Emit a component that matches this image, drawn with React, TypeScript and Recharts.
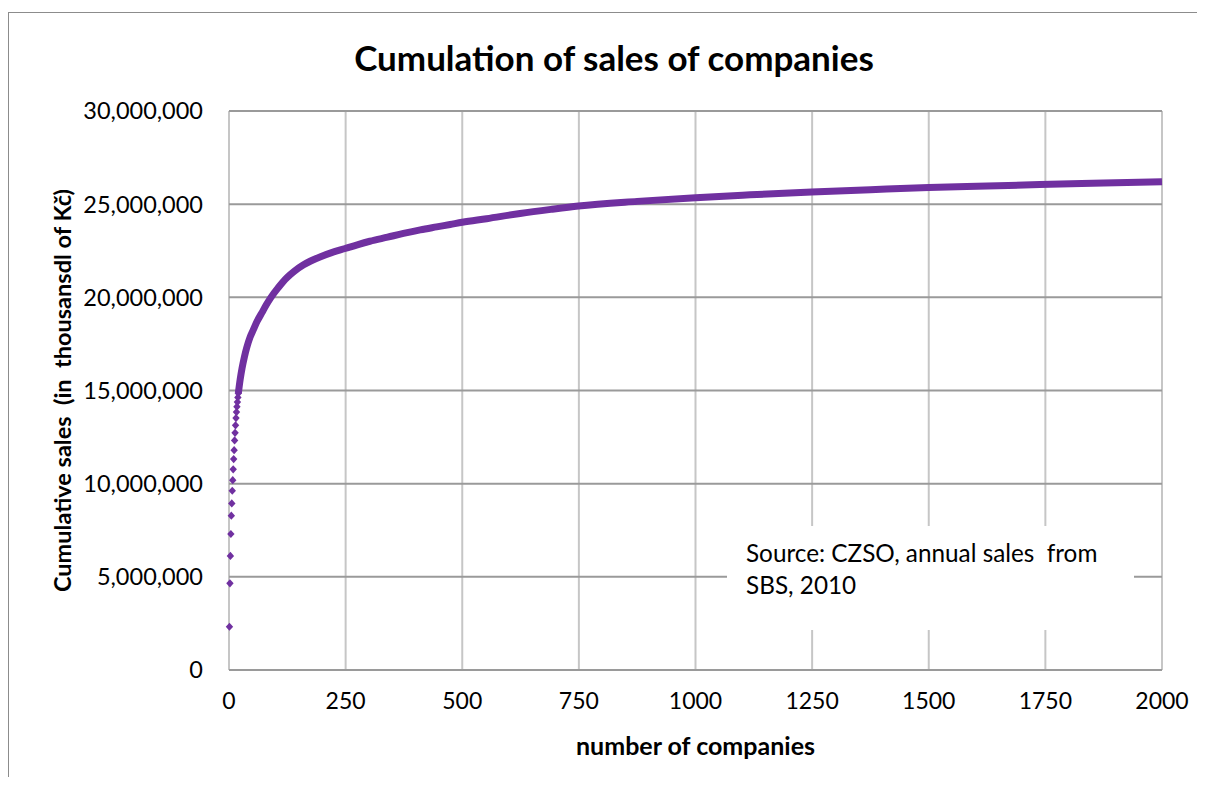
import { ComposedChart, Line, Scatter, XAxis, YAxis, CartesianGrid, Label } from "recharts";

// first companies, drawn as separate diamond markers
const firstCompanies = [1, 2, 3, 4, 5, 6, 7, 8, 9, 10, 11, 12, 13, 14, 15, 16, 17, 18, 19, 20];
const firstSales = [
  2320000, 4650000, 6120000, 7300000, 8280000, 8940000, 9620000, 10190000, 10770000, 11320000,
  11800000, 12320000, 12730000, 13130000, 13520000, 13840000, 14130000, 14380000, 14630000, 14850000,
];

// rest of the curve, markers so dense they form a band
const bandCompanies = [
  20, 24, 28, 33, 38, 45, 52, 60, 70, 80, 90, 105, 124, 140, 159, 175, 195, 220, 249, 275, 302,
  340, 374, 410, 445, 474, 500, 552, 624, 690, 749, 875, 1000, 1117, 1249, 1375, 1500, 1625,
  1738, 1875, 2000,
];
const bandSales = [
  14850000, 15600000, 16200000, 16800000, 17300000, 17850000, 18250000, 18700000, 19150000,
  19600000, 20000000, 20500000, 21050000, 21400000, 21730000, 21950000, 22170000, 22400000,
  22620000, 22820000, 23010000, 23230000, 23430000, 23620000, 23780000, 23910000, 24030000,
  24220000, 24500000, 24720000, 24900000, 25150000, 25350000, 25500000, 25650000, 25780000,
  25900000, 25980000, 26050000, 26130000, 26200000,
];

const xTicks = [0, 250, 500, 750, 1000, 1250, 1500, 1750, 2000];
const yTicks = [0, 5000000, 10000000, 15000000, 20000000, 25000000, 30000000];

const title = "Cumulation of sales of companies";
const xTitle = "number of companies";
const yTitle = "Cumulative sales  (in  thousansdl of Kč)";
const sourceNote = ["Source: CZSO, annual sales  from", "SBS, 2010"];

const purple = "#7030A0";
const font = "Lato, 'Open Sans', sans-serif";

const firstData = firstCompanies.map((n, i) => ({ n, sales: firstSales[i] }));
const bandData = bandCompanies.map((n, i) => ({ n, sales: bandSales[i] }));

const Diamond = (props: any) => {
  const { cx, cy } = props;
  if (cx == null || cy == null) return null;
  return (
    <polygon
      points={`${cx},${cy - 4.1} ${cx + 3.7},${cy} ${cx},${cy + 4.1} ${cx - 3.7},${cy}`}
      fill={purple}
    />
  );
};

export default function App() {
  return (
    <div style={{ position: "relative", width: 1197, height: 769, overflow: "hidden", fontFamily: font }}>
      <div
        style={{
          position: "absolute",
          left: 0,
          top: 4,
          width: 1300,
          height: 900,
          borderLeft: "1px solid #8c8c8c",
          borderTop: "1px solid #8c8c8c",
        }}
      />
      <div
        style={{
          position: "absolute",
          left: 0,
          width: 1212,
          top: 28,
          textAlign: "center",
          fontSize: 35,
          fontWeight: 700,
          lineHeight: "42px",
          color: "#000",
        }}
      >
        {title}
      </div>
      <div style={{ position: "absolute", left: 0, top: 0 }}>
        <ComposedChart
          width={1189}
          height={769}
          margin={{ top: 103, right: 35, bottom: 67, left: 0 }}
          style={{ fontFamily: font }}
        >
          <CartesianGrid horizontal={false} stroke="#c6c6c6" strokeWidth={2} />
          <CartesianGrid vertical={false} stroke="#9a9a9a" strokeWidth={2} />
          <XAxis
            type="number"
            dataKey="n"
            domain={[0, 2000]}
            ticks={xTicks}
            interval={0}
            axisLine={false}
            tickLine={false}
            tickSize={0}
            tickMargin={23}
            height={40}
            tick={{ fill: "#000", fontSize: 23, fontFamily: font }}
          >
            <Label
              content={({ viewBox }: any) => (
                <text
                  x={viewBox.x + viewBox.width / 2}
                  y={737}
                  textAnchor="middle"
                  dominantBaseline="central"
                  fontSize={25}
                  fontWeight={700}
                  fill="#000"
                  fontFamily={font}
                >
                  {xTitle}
                </text>
              )}
            />
          </XAxis>
          <YAxis
            type="number"
            domain={[0, 30000000]}
            ticks={yTicks}
            interval={0}
            width={221}
            axisLine={false}
            tickLine={false}
            tickSize={0}
            tickMargin={26}
            tickFormatter={(v: number) => v.toLocaleString("en-US")}
            tick={{ fill: "#000", fontSize: 23.5, fontFamily: font }}
          >
            <Label
              content={({ viewBox }: any) => {
                const cx = viewBox.x + 54;
                const cy = viewBox.y + viewBox.height / 2;
                return (
                  <text
                    x={cx}
                    y={cy}
                    transform={`rotate(-90 ${cx} ${cy})`}
                    textAnchor="middle"
                    dominantBaseline="central"
                    fontSize={23.5}
                    fontWeight={700}
                    fill="#000"
                    fontFamily={font}
                    style={{ whiteSpace: "pre" }}
                  >
                    {yTitle}
                  </text>
                );
              }}
            />
          </YAxis>
          <Line
            data={bandData}
            dataKey="sales"
            type="monotone"
            stroke={purple}
            strokeWidth={7}
            dot={false}
            activeDot={false}
            isAnimationActive={false}
          />
          <Scatter data={firstData} dataKey="sales" shape={Diamond} isAnimationActive={false} />
        </ComposedChart>
      </div>
      <div
        style={{
          position: "absolute",
          left: 719,
          top: 518,
          width: 407,
          height: 104,
          background: "#fff",
          boxSizing: "border-box",
          paddingLeft: 19,
          paddingTop: 11,
          fontSize: 24.3,
          lineHeight: "32px",
          color: "#000",
          whiteSpace: "pre",
        }}
      >
        {sourceNote[0]}
        <br />
        {sourceNote[1]}
      </div>
    </div>
  );
}
